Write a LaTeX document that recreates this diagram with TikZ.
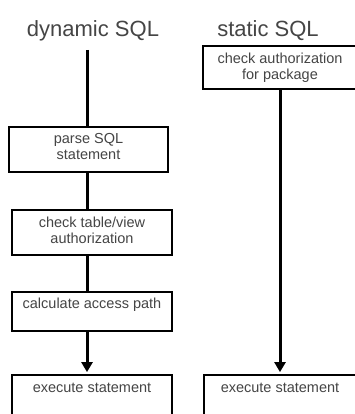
\documentclass[tikz,border=0pt]{standalone}
\usepackage{fontspec}
\setmainfont{Liberation Sans}
\usetikzlibrary{arrows.meta}
\definecolor{txt}{HTML}{454545}
\begin{document}
\begin{tikzpicture}[x=1pt,y=-1pt,
  box/.style={draw=black,line width=1.8pt,inner sep=0pt},
  lbl/.style={text=txt,font=\fontsize{14.5}{16}\selectfont,align=center,inner sep=0pt,anchor=north},
  title/.style={text=txt,font=\fontsize{22}{24}\selectfont,inner sep=0pt},
  conn/.style={line width=3pt},
  arr/.style={line width=3pt,-{Triangle[length=10pt,width=11pt]},shorten >=2pt}]
\clip (0,0) rectangle (355,414);
\fill[white] (0,0) rectangle (355,414);
% titles
\node[title] (tdyn) at (93,31) {dynamic SQL};
\node[title] (tsta) at (268,31) {static SQL};
% dynamic boxes
\node[box,minimum width=159pt,minimum height=45pt] (parse) at (88.5,149.5) {};
\node[box,minimum width=160pt,minimum height=45pt] (check) at (92,232.5) {};
\node[box,minimum width=160pt,minimum height=39pt] (calc) at (92,311.5) {};
\node[box,minimum width=160pt,minimum height=60pt] (exec1) at (92,405) {};
% static boxes
\node[box,minimum width=160pt,minimum height=43pt] (auth) at (283,67.5) {};
\node[box,minimum width=160pt,minimum height=60pt] (exec2) at (284,405) {};
% texts
\node[lbl] (tparse) at ([yshift=-7pt]parse.north) {parse SQL\\statement};
\node[lbl] (tcheck) at ([yshift=-8pt]check.north) {check table/view\\authorization};
\node[lbl] (tcalc) at ([yshift=-7pt]calc.north) {calculate access path};
\node[lbl] (texec1) at ([yshift=-9pt]exec1.north) {execute statement};
\node[lbl] (tauth) at ([xshift=-3pt,yshift=-8pt]auth.north) {check authorization\\for package};
\node[lbl] (texec2) at ([xshift=-4pt,yshift=-9pt]exec2.north) {execute statement};
% connectors
\coordinate (start) at (87,50);
\draw[conn] (start) -- (start |- parse.north);
\draw[conn] (parse.south -| start) -- (check.north -| start);
\draw[conn] (check.south -| start) -- (calc.north -| start);
\draw[arr] (calc.south -| start) -- (exec1.north -| start);
\coordinate (s2) at (280,89);
\draw[arr] (auth.south -| s2) -- (exec2.north -| s2);
\end{tikzpicture}
\end{document}
